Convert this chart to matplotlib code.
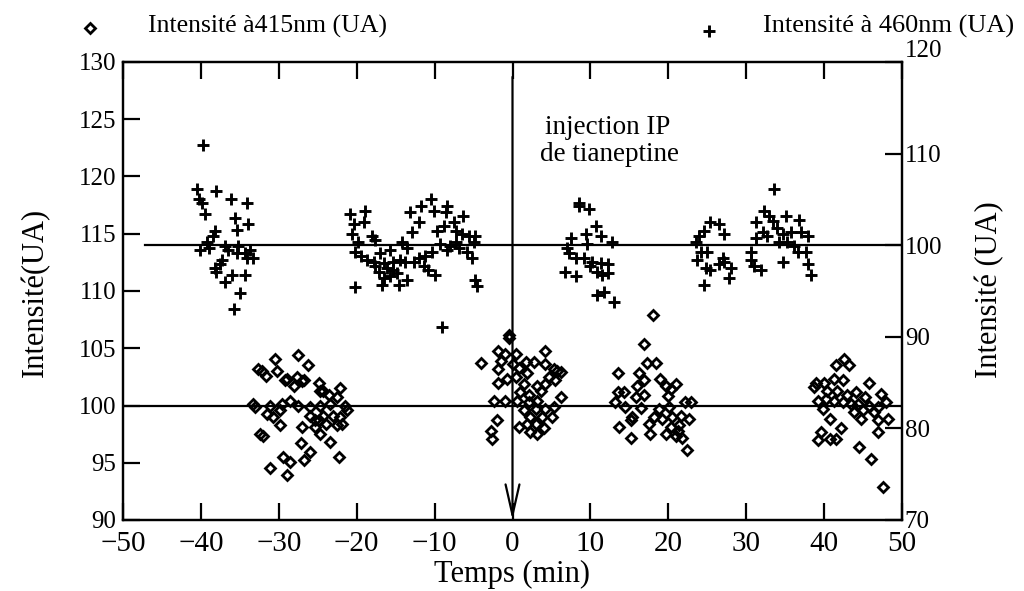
import matplotlib
matplotlib.use("Agg")
import matplotlib.pyplot as plt
from matplotlib.lines import Line2D
import numpy as np

plt.rcParams['font.family'] = ['Liberation Serif', 'DejaVu Serif']

# ---------------- data: intensity at 415 nm (left axis, diamonds) ----------------
i415_seg1 = [(-30.5,104.1),(-27.5,104.4),(-26.2,103.5),(-32.2,103.0),(-31.7,102.6),(-30.2,103.0),
             (-29.0,102.3),(-27.7,102.5),(-28.1,101.7),(-26.8,102.2),(-24.9,102.0),(-24.7,101.3),
             (-23.6,100.9),(-22.1,101.5),(-22.5,100.7),(-33.3,100.1),(-33.0,99.9),(-31.1,100.0),
             (-31.5,99.3),(-29.6,100.1),(-29.8,99.6),(-28.5,100.4),(-27.5,100.0),(-26.0,99.9),
             (-24.7,100.0),(-23.4,100.1),(-21.5,100.0),(-21.2,99.6),(-30.7,99.0),(-29.8,98.3),
             (-26.0,99.1),(-24.3,99.1),(-25.3,98.7),(-23.0,99.1),(-22.1,99.0),(-27.0,98.1),
             (-25.3,98.1),(-24.0,98.4),(-22.5,98.3),(-21.9,98.4),(-24.7,97.5),(-32.4,97.5),
             (-32.0,97.3),(-27.2,96.7),(-23.4,96.8),(-26.0,95.9),(-26.8,95.2),(-29.4,95.5),
             (-28.5,95.1),(-22.3,95.5),(-31.1,94.5),(-29.0,93.9),(-29.2,102.2),(-27.0,102.1),
             (-24.3,101.3),(-24.9,98.7),(-32.7,103.2)]
i415_seg2 = [(-0.5,106.2),(-0.5,105.9),(4.2,104.8),(-1.8,104.8),(-4.0,103.7),(-0.9,104.5),
             (0.4,104.5),(-1.5,103.9),(-1.8,103.2),(0.0,103.6),(0.8,103.3),(1.7,103.8),
             (2.7,103.8),(1.9,102.8),(4.2,103.6),(5.3,103.2),(6.2,102.9),(4.7,102.5),
             (5.5,102.2),(4.2,101.9),(3.2,101.7),(3.6,101.3),(-1.8,102.0),(-0.7,102.3),
             (0.4,102.5),(1.5,101.9),(1.0,101.2),(2.1,100.9),(-2.4,100.4),(-0.9,100.4),
             (0.6,100.4),(2.1,100.3),(3.2,100.4),(6.2,100.7),(1.5,99.6),(3.0,99.7),
             (4.2,99.7),(5.3,99.9),(2.3,99.0),(3.8,99.0),(5.1,99.0),(0.8,98.1),
             (1.9,98.4),(3.0,98.4),(2.3,97.7),(3.2,97.5),(4.0,98.0),(-2.0,98.7),
             (-2.8,97.8),(-2.6,97.1),(5.7,103.0)]
i415_seg3 = [(18.0,107.9),(16.9,105.4),(17.3,103.7),(18.4,103.7),(13.5,102.8),(16.2,102.8),
             (16.9,102.2),(18.9,102.3),(19.7,101.7),(21.0,101.9),(20.3,101.4),(16.0,101.7),
             (13.5,101.2),(14.3,101.2),(15.8,100.7),(16.9,100.9),(19.9,100.8),(13.2,100.3),
             (14.5,99.9),(16.5,99.8),(18.8,99.7),(20.1,99.9),(22.2,100.3),(22.9,100.3),
             (15.4,99.0),(15.2,98.7),(18.2,99.0),(19.2,98.8),(20.5,99.0),(21.6,99.1),
             (22.7,98.8),(17.5,98.4),(20.3,98.1),(21.4,98.3),(13.7,98.1),(17.7,97.5),
             (19.7,97.5),(21.0,97.3),(21.8,97.2),(15.2,97.2),(22.4,96.1),(21.2,97.8)]
i415_seg4 = [(42.6,104.1),(43.2,103.5),(41.5,103.5),(38.9,102.0),(40.0,102.0),(41.3,102.3),
             (42.4,102.2),(45.8,102.0),(38.7,101.6),(40.4,101.3),(41.7,101.3),(43.0,100.9),
             (44.1,101.2),(45.2,100.7),(47.3,101.0),(47.9,100.3),(39.2,100.4),(40.2,100.6),
             (41.3,100.4),(42.4,100.3),(43.4,100.1),(44.3,100.1),(45.8,100.0),(46.9,99.9),
             (39.8,99.7),(43.9,99.4),(45.0,99.6),(46.4,99.4),(40.7,98.8),(44.7,98.8),
             (46.9,98.7),(48.2,98.8),(42.2,98.0),(39.6,97.7),(40.7,97.1),(39.2,97.0),
             (41.5,97.1),(46.9,97.7),(44.5,96.4),(46.0,95.3),(47.5,92.9)]

# ---------------- data: intensity at 460 nm (right axis, plus) ----------------
i460_seg1 = [(-39.7,110.9),(-40.5,106.1),(-40.3,105.0),(-39.9,104.6),(-39.5,103.4),(-38.0,105.9),
             (-36.2,105.0),(-34.1,104.6),(-33.9,102.3),(-35.6,103.0),(-35.4,101.7),(-38.2,101.5),
             (-38.4,101.0),(-39.2,100.3),(-40.1,99.5),(-39.0,99.7),(-36.9,99.9),(-36.5,99.5),
             (-35.2,99.9),(-34.3,99.2),(-33.7,99.5),(-33.3,98.6),(-34.1,98.6),(-37.3,98.4),
             (-37.5,97.9),(-38.2,97.5),(-38.0,97.1),(-36.0,96.8),(-36.9,96.0),(-34.3,96.8),
             (-35.0,94.8),(-35.8,93.0),(-35.4,99.2)]
i460_seg2 = [(-20.8,103.4),(-18.9,103.7),(-20.4,102.3),(-19.1,102.5),(-20.6,101.2),(-18.0,101.0),
             (-17.6,100.6),(-19.8,100.3),(-20.2,99.3),(-19.5,98.8),(-18.7,98.4),(-17.8,98.2),
             (-17.0,99.2),(-15.7,99.5),(-16.5,98.1),(-15.3,98.2),(-14.2,100.4),(-13.5,99.7),
             (-12.9,101.4),(-13.8,98.2),(-17.6,97.7),(-17.2,97.1),(-16.5,96.4),(-16.7,95.7),
             (-15.7,96.6),(-14.8,97.0),(-14.6,95.7),(-13.5,96.2),(-20.2,95.4),(-13.1,103.6),
             (-11.8,104.3),(-10.5,105.0),(-10.1,103.7),(-8.4,104.3),(-8.6,103.6),(-6.3,103.2),
             (-12.0,102.5),(-9.7,101.5),(-8.8,102.1),(-7.5,102.5),(-7.3,101.5),(-6.5,101.2),
             (-5.6,101.0),(-4.8,101.0),(-5.0,100.4),(-8.0,99.9),(-9.3,100.1),(-10.3,99.3),
             (-11.2,98.8),(-12.0,98.6),(-12.7,98.2),(-11.4,97.7),(-10.8,97.3),(-9.9,96.8),
             (-5.8,99.3),(-5.2,98.6),(-4.8,96.2),(-4.5,95.5),(-9.0,91.1),(-16.1,97.5),
             (-15.3,97.3),(-14.4,98.4),(-8.4,99.5),(-7.3,100.3),(-6.9,99.7)]
i460_seg3 = [(8.5,104.3),(8.5,104.6),(9.8,103.9),(10.7,102.1),(9.4,101.2),(11.3,101.0),
             (12.8,100.3),(7.5,100.8),(9.6,100.1),(7.0,99.7),(7.2,99.2),(8.1,98.6),
             (9.2,98.6),(10.2,98.2),(11.3,98.1),(12.2,97.9),(10.9,97.1),(11.5,96.8),
             (12.2,97.0),(6.8,97.1),(8.1,96.6),(10.9,94.6),(13.0,93.8),(11.7,94.9),(10.0,97.7)]
i460_seg4 = [(33.6,106.1),(32.3,103.7),(32.9,103.2),(31.2,102.5),(33.4,102.6),(35.1,103.2),
             (36.8,102.8),(34.0,101.9),(32.1,101.4),(31.2,100.8),(32.7,101.0),(34.7,101.2),
             (35.7,101.4),(37.0,101.4),(37.9,101.0),(35.3,100.4),(36.2,99.9),(36.6,99.3),
             (37.7,99.3),(34.2,100.4),(34.7,98.2),(37.9,97.9),(38.3,96.8),(30.6,99.3),
             (30.6,98.4),(31.0,97.7),(31.9,97.3),(25.4,102.5),(26.5,102.3),(24.6,101.5),
             (27.2,101.2),(23.9,101.0),(23.5,100.3),(24.2,99.3),(25.0,99.3),(23.7,98.4),
             (24.8,97.5),(25.4,97.3),(27.0,98.6),(27.2,98.2),(26.5,97.9),(28.0,97.5),
             (27.8,96.4),(24.6,95.7)]

baseline_415 = 100      # left-axis reference line
baseline_460 = 100      # right-axis reference line
injection_time = 0

xticks = [-50, -40, -30, -20, -10, 0, 10, 20, 30, 40, 50]
yticks_left = [90, 95, 100, 105, 110, 115, 120, 125, 130]
yticks_right = [70, 80, 90, 100, 110, 120]

# ---------------- figure ----------------
W, H = 1024, 591
fig = plt.figure(figsize=(W / 100, H / 100), dpi=100)
ax = fig.add_axes([123 / W, 1 - 520 / H, (902 - 123) / W, (520 - 62) / H])
ax2 = ax.twinx()

d415 = np.array(i415_seg1 + i415_seg2 + i415_seg3 + i415_seg4)
d460 = np.array(i460_seg1 + i460_seg2 + i460_seg3 + i460_seg4)

ax.plot(d415[:, 0], d415[:, 1], linestyle='none', marker='D', ms=5.5, mfc='none',
        mec='black', mew=2.0, clip_on=False)
ax2.plot(d460[:, 0], d460[:, 1], linestyle='none', marker='+', ms=9,
         mec='black', mew=2.1, clip_on=False)

ax.axhline(baseline_415, color='black', lw=1.6)
ax2.plot([-47.2, 50], [baseline_460, baseline_460], color='black', lw=1.6)

ax.annotate('', xy=(injection_time, 90), xytext=(injection_time, 128.7),
            arrowprops=dict(arrowstyle='->,head_length=1.1,head_width=0.25',
                            lw=1.6, color='black', mutation_scale=20,
                            shrinkA=0, shrinkB=0))

ax.set_xlim(-50, 50)
ax.set_ylim(90, 130)
ax2.set_ylim(70, 120)
ax.set_xticks(xticks)
ax.set_yticks(yticks_left)
ax2.set_yticks(yticks_right)

ax.tick_params(axis='x', direction='in', length=12, width=1.6, top=True,
               labelsize=21, pad=8)
ax.tick_params(axis='y', direction='in', length=12, width=1.6, right=False,
               labelsize=18, pad=5)
ax2.tick_params(axis='y', direction='in', length=12, width=1.6,
                labelsize=18, pad=2)
for a in (ax, ax2):
    for s in a.spines.values():
        s.set_linewidth(1.6)

# raise the top right label (120) above the corner
ax2.yaxis.get_major_ticks()[-1].label2.set_va('bottom')

# axis labels
fig.text(512 / W, 1 - 582 / H, 'Temps (min)', ha='center', va='baseline', fontsize=22)
fig.text(35 / W, 1 - 292 / H, 'Intensité(UA)', ha='center', va='center',
         rotation=90, fontsize=22)
fig.text(990 / W, 1 - 290 / H, 'Intensité (UA)', ha='center', va='center',
         rotation=90, fontsize=22)

# legend-like headers
fig.add_artist(Line2D([90 / W], [1 - 28 / H], marker='D', ms=5.5, mfc='none', mec='black',
                      mew=2.0, linestyle='none', transform=fig.transFigure))
fig.text(148 / W, 1 - 33 / H, 'Intensité à415nm (UA)', va='baseline', fontsize=18.5)
fig.add_artist(Line2D([709 / W], [1 - 31 / H], marker='+', ms=9, mec='black',
                      mew=2.1, linestyle='none', transform=fig.transFigure))
fig.text(763 / W, 1 - 33 / H, 'Intensité à 460nm (UA)', va='baseline', fontsize=19)

# annotation text
fig.text(545 / W, 1 - 134 / H, 'injection IP', va='baseline', fontsize=19.5)
fig.text(540 / W, 1 - 161 / H, 'de tianeptine', va='baseline', fontsize=19.5)

fig.savefig('out.png', dpi=100)
